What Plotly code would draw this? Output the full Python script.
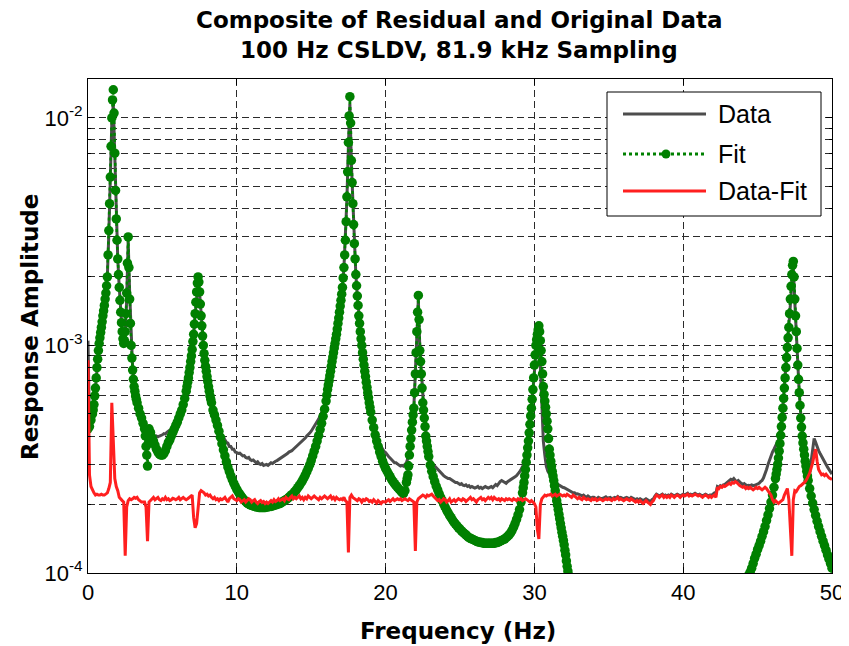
import numpy as np
import plotly.graph_objects as go

# frequency bins (0.1 Hz resolution, 0-50 Hz)
freq = np.linspace(0, 50, 501)

# Measured response (Data), gray line
data_amp = [
    1.05e-3, 4.4e-4, 4.7e-4, 5.0e-4, 5.5e-4, 6.5e-4, 8.0e-4, 9.5e-4, 1.08e-3, 1.2e-3,
    1.35e-3, 1.5e-3, 1.7e-3, 2.0e-3, 3.1e-3, 5.3e-3, 9.5e-3, 1.15e-2, 6.8e-3, 3.6e-3,
    2.4e-3, 1.8e-3, 1.4e-3, 1.15e-3, 1.02e-3, 1.1e-3, 1.6e-3, 2.9e-3, 1.7e-3, 1.05e-3,
    8.0e-4, 6.8e-4, 6.0e-4, 5.6e-4, 5.2e-4, 4.9e-4, 4.6e-4, 4.4e-4, 4.25e-4, 4.1e-4,
    4.0e-4, 3.95e-4, 3.9e-4, 3.9e-4, 3.92e-4, 3.95e-4, 4.0e-4, 3.97e-4, 4.0e-4, 4.02e-4,
    4.05e-4, 4.1e-4, 4.08e-4, 4.15e-4, 4.2e-4, 4.25e-4, 4.3e-4, 4.4e-4, 4.5e-4, 4.6e-4,
    4.7e-4, 4.85e-4, 5.0e-4, 5.2e-4, 5.5e-4, 5.85e-4, 6.3e-4, 6.9e-4, 7.6e-4, 8.5e-4,
    9.6e-4, 1.12e-3, 1.35e-3, 1.65e-3, 1.9e-3, 1.7e-3, 1.35e-3, 1.1e-3, 9.3e-4, 8.2e-4,
    7.4e-4, 6.7e-4, 6.1e-4, 5.7e-4, 5.3e-4, 5.0e-4, 4.75e-4, 4.55e-4, 4.3e-4, 4.15e-4,
    4.05e-4, 3.92e-4, 3.88e-4, 3.75e-4, 3.72e-4, 3.6e-4, 3.6e-4, 3.5e-4, 3.5e-4, 3.4e-4,
    3.38e-4, 3.35e-4, 3.36e-4, 3.3e-4, 3.27e-4, 3.28e-4, 3.22e-4, 3.2e-4, 3.22e-4, 3.15e-4,
    3.12e-4, 3.14e-4, 3.08e-4, 3.05e-4, 3.08e-4, 3.02e-4, 3.0e-4, 3.03e-4, 2.97e-4, 2.98e-4,
    3.0e-4, 2.97e-4, 3.02e-4, 3.05e-4, 3.03e-4, 3.08e-4, 3.1e-4, 3.12e-4, 3.15e-4, 3.2e-4,
    3.22e-4, 3.25e-4, 3.28e-4, 3.3e-4, 3.35e-4, 3.4e-4, 3.42e-4, 3.45e-4, 3.5e-4, 3.55e-4,
    3.6e-4, 3.62e-4, 3.68e-4, 3.75e-4, 3.8e-4, 3.85e-4, 3.92e-4, 4.0e-4, 4.05e-4, 4.12e-4,
    4.2e-4, 4.3e-4, 4.4e-4, 4.5e-4, 4.62e-4, 4.75e-4, 4.9e-4, 5.05e-4, 5.25e-4, 5.5e-4,
    5.8e-4, 6.4e-4, 7.0e-4, 7.7e-4, 8.5e-4, 9.3e-4, 1.02e-3, 1.12e-3, 1.25e-3, 1.4e-3,
    1.58e-3, 1.8e-3, 2.2e-3, 2.9e-3, 4.4e-3, 7.5e-3, 1.15e-2, 6.3e-3, 4.1e-3, 2.8e-3,
    2.05e-3, 1.65e-3, 1.35e-3, 1.15e-3, 1.0e-3, 8.8e-4, 7.8e-4, 7.0e-4, 6.3e-4, 5.8e-4,
    5.3e-4, 4.9e-4, 4.6e-4, 4.3e-4, 4.05e-4, 3.85e-4, 3.7e-4, 3.6e-4, 3.5e-4, 3.42e-4,
    3.38e-4, 3.3e-4, 3.25e-4, 3.2e-4, 3.15e-4, 3.12e-4, 3.05e-4, 3.05e-4, 3.0e-4, 2.98e-4,
    2.95e-4, 2.97e-4, 2.95e-4, 3.0e-4, 3.05e-4, 3.2e-4, 3.5e-4, 4.0e-4, 4.7e-4, 5.4e-4,
    7.6e-4, 1.15e-3, 1.6e-3, 9.8e-4, 7.7e-4, 5.8e-4, 4.9e-4, 4.2e-4, 3.7e-4, 3.35e-4,
    3.15e-4, 3.05e-4, 3.0e-4, 2.95e-4, 2.9e-4, 2.85e-4, 2.8e-4, 2.75e-4, 2.72e-4, 2.68e-4,
    2.65e-4, 2.62e-4, 2.6e-4, 2.6e-4, 2.57e-4, 2.55e-4, 2.53e-4, 2.5e-4, 2.5e-4, 2.48e-4,
    2.45e-4, 2.47e-4, 2.43e-4, 2.42e-4, 2.44e-4, 2.4e-4, 2.42e-4, 2.38e-4, 2.4e-4, 2.38e-4,
    2.36e-4, 2.38e-4, 2.4e-4, 2.36e-4, 2.38e-4, 2.35e-4, 2.37e-4, 2.4e-4, 2.38e-4, 2.36e-4,
    2.38e-4, 2.4e-4, 2.37e-4, 2.42e-4, 2.45e-4, 2.42e-4, 2.48e-4, 2.52e-4, 2.55e-4, 2.52e-4,
    2.5e-4, 2.48e-4, 2.52e-4, 2.55e-4, 2.58e-4, 2.6e-4, 2.62e-4, 2.65e-4, 2.68e-4, 2.72e-4,
    2.78e-4, 2.85e-4, 2.92e-4, 3.0e-4, 3.1e-4, 3.4e-4, 3.85e-4, 4.5e-4, 5.3e-4, 6.4e-4,
    8.2e-4, 1.0e-3, 1.1e-3, 1.18e-3, 8.0e-4, 5.0e-4, 3.8e-4, 3.3e-4, 2.95e-4, 2.8e-4,
    2.72e-4, 2.65e-4, 2.6e-4, 2.55e-4, 2.5e-4, 2.48e-4, 2.45e-4, 2.42e-4, 2.4e-4, 2.38e-4,
    2.37e-4, 2.35e-4, 2.33e-4, 2.3e-4, 2.28e-4, 2.27e-4, 2.25e-4, 2.25e-4, 2.22e-4, 2.23e-4,
    2.22e-4, 2.2e-4, 2.18e-4, 2.2e-4, 2.17e-4, 2.15e-4, 2.18e-4, 2.15e-4, 2.13e-4, 2.15e-4,
    2.15e-4, 2.13e-4, 2.12e-4, 2.15e-4, 2.14e-4, 2.12e-4, 2.13e-4, 2.15e-4, 2.16e-4, 2.13e-4,
    2.14e-4, 2.15e-4, 2.12e-4, 2.14e-4, 2.15e-4, 2.14e-4, 2.17e-4, 2.14e-4, 2.15e-4, 2.13e-4,
    2.12e-4, 2.14e-4, 2.15e-4, 2.13e-4, 2.12e-4, 2.15e-4, 2.13e-4, 2.12e-4, 2.1e-4, 2.12e-4,
    2.1e-4, 2.12e-4, 2.1e-4, 2.08e-4, 2.1e-4, 2.12e-4, 2.1e-4, 2.08e-4, 2.06e-4, 2.1e-4,
    2.12e-4, 2.18e-4, 2.22e-4, 2.2e-4, 2.18e-4, 2.2e-4, 2.22e-4, 2.18e-4, 2.2e-4, 2.18e-4,
    2.2e-4, 2.18e-4, 2.22e-4, 2.2e-4, 2.18e-4, 2.2e-4, 2.22e-4, 2.2e-4, 2.18e-4, 2.2e-4,
    2.22e-4, 2.2e-4, 2.22e-4, 2.24e-4, 2.2e-4, 2.22e-4, 2.2e-4, 2.22e-4, 2.24e-4, 2.22e-4,
    2.2e-4, 2.22e-4, 2.2e-4, 2.18e-4, 2.2e-4, 2.22e-4, 2.2e-4, 2.18e-4, 2.2e-4, 2.2e-4,
    2.22e-4, 2.25e-4, 2.24e-4, 2.4e-4, 2.38e-4, 2.42e-4, 2.4e-4, 2.44e-4, 2.45e-4, 2.48e-4,
    2.5e-4, 2.55e-4, 2.58e-4, 2.56e-4, 2.6e-4, 2.55e-4, 2.52e-4, 2.55e-4, 2.5e-4, 2.48e-4,
    2.45e-4, 2.47e-4, 2.44e-4, 2.42e-4, 2.43e-4, 2.42e-4, 2.44e-4, 2.42e-4, 2.43e-4, 2.45e-4,
    2.45e-4, 2.48e-4, 2.52e-4, 2.55e-4, 2.62e-4, 2.72e-4, 2.85e-4, 3.0e-4, 3.15e-4, 3.3e-4,
    3.4e-4, 3.5e-4, 3.6e-4, 3.7e-4, 3.85e-4, 4.1e-4, 4.6e-4, 5.4e-4, 6.6e-4, 8.0e-4,
    9.5e-4, 1.15e-3, 1.5e-3, 1.9e-3, 2.2e-3, 1.55e-3, 1.1e-3, 8.0e-4, 6.2e-4, 5.0e-4,
    4.2e-4, 3.7e-4, 3.3e-4, 3.05e-4, 2.95e-4, 2.95e-4, 3.1e-4, 3.4e-4, 3.9e-4, 3.75e-4,
    3.55e-4, 3.45e-4, 3.35e-4, 3.25e-4, 3.15e-4, 3.05e-4, 3.0e-4, 2.92e-4, 2.85e-4, 2.8e-4,
    2.72e-4,
]

# Modal fit (Fit), green dotted line with dots, on the 0.1 Hz bins
fit_amp = [
    4.3e-4, 4.4e-4, 4.7e-4, 5.0e-4, 5.5e-4, 6.5e-4, 8.0e-4, 9.5e-4, 1.08e-3, 1.2e-3,
    1.35e-3, 1.5e-3, 1.7e-3, 2.0e-3, 3.2e-3, 5.5e-3, 1.0e-2, 1.33e-2, 7.0e-3, 3.6e-3,
    2.4e-3, 1.8e-3, 1.4e-3, 1.15e-3, 1.02e-3, 1.15e-3, 1.7e-3, 3.0e-3, 1.6e-3, 1.0e-3,
    7.8e-4, 6.6e-4, 6.0e-4, 5.6e-4, 5.3e-4, 5.0e-4, 4.8e-4, 4.55e-4, 4.3e-4, 3.6e-4,
    2.95e-4, 4.3e-4, 4.15e-4, 3.95e-4, 3.8e-4, 3.65e-4, 3.5e-4, 3.4e-4, 3.33e-4, 3.3e-4,
    3.3e-4, 3.35e-4, 3.45e-4, 3.6e-4, 3.75e-4, 3.85e-4, 4.0e-4, 4.15e-4, 4.3e-4, 4.45e-4,
    4.6e-4, 4.8e-4, 5.0e-4, 5.2e-4, 5.5e-4, 5.85e-4, 6.3e-4, 6.9e-4, 7.6e-4, 8.5e-4,
    9.6e-4, 1.12e-3, 1.38e-3, 1.72e-3, 2.0e-3, 1.72e-3, 1.35e-3, 1.1e-3, 9.2e-4, 8.1e-4,
    7.3e-4, 6.6e-4, 6.0e-4, 5.6e-4, 5.2e-4, 4.95e-4, 4.7e-4, 4.45e-4, 4.2e-4, 3.95e-4,
    3.7e-4, 3.48e-4, 3.27e-4, 3.08e-4, 2.92e-4, 2.79e-4, 2.67e-4, 2.57e-4, 2.48e-4, 2.4e-4,
    2.33e-4, 2.27e-4, 2.22e-4, 2.17e-4, 2.13e-4, 2.09e-4, 2.06e-4, 2.03e-4, 2.01e-4, 1.99e-4,
    1.98e-4, 1.97e-4, 1.96e-4, 1.95e-4, 1.95e-4, 1.94e-4, 1.94e-4, 1.94e-4, 1.94e-4, 1.94e-4,
    1.95e-4, 1.95e-4, 1.96e-4, 1.96e-4, 1.97e-4, 1.98e-4, 1.99e-4, 2.0e-4, 2.01e-4, 2.02e-4,
    2.04e-4, 2.06e-4, 2.08e-4, 2.1e-4, 2.12e-4, 2.15e-4, 2.18e-4, 2.21e-4, 2.24e-4, 2.28e-4,
    2.32e-4, 2.37e-4, 2.42e-4, 2.48e-4, 2.54e-4, 2.61e-4, 2.69e-4, 2.78e-4, 2.88e-4, 2.99e-4,
    3.12e-4, 3.27e-4, 3.43e-4, 3.6e-4, 3.8e-4, 4.02e-4, 4.27e-4, 4.55e-4, 4.88e-4, 5.25e-4,
    5.7e-4, 6.4e-4, 7.0e-4, 7.7e-4, 8.5e-4, 9.3e-4, 1.02e-3, 1.12e-3, 1.25e-3, 1.4e-3,
    1.58e-3, 1.8e-3, 2.2e-3, 2.9e-3, 4.5e-3, 7.8e-3, 1.24e-2, 6.5e-3, 4.2e-3, 2.8e-3,
    2.05e-3, 1.65e-3, 1.35e-3, 1.15e-3, 1.0e-3, 8.7e-4, 7.7e-4, 6.9e-4, 6.2e-4, 5.6e-4,
    5.1e-4, 4.7e-4, 4.35e-4, 4.05e-4, 3.8e-4, 3.6e-4, 3.4e-4, 3.25e-4, 3.1e-4, 2.98e-4,
    2.88e-4, 2.8e-4, 2.72e-4, 2.65e-4, 2.58e-4, 2.52e-4, 2.47e-4, 2.42e-4, 2.38e-4, 2.34e-4,
    2.3e-4, 2.26e-4, 2.23e-4, 2.3e-4, 2.5e-4, 2.7e-4, 3.3e-4, 3.9e-4, 4.6e-4, 5.3e-4,
    7.5e-4, 1.15e-3, 1.66e-3, 9.5e-4, 7.5e-4, 5.6e-4, 4.8e-4, 4.0e-4, 3.6e-4, 3.25e-4,
    2.98e-4, 2.8e-4, 2.65e-4, 2.52e-4, 2.41e-4, 2.32e-4, 2.23e-4, 2.15e-4, 2.08e-4, 2.01e-4,
    1.95e-4, 1.89e-4, 1.84e-4, 1.79e-4, 1.75e-4, 1.71e-4, 1.67e-4, 1.64e-4, 1.61e-4, 1.58e-4,
    1.56e-4, 1.53e-4, 1.51e-4, 1.49e-4, 1.47e-4, 1.45e-4, 1.43e-4, 1.42e-4, 1.41e-4, 1.4e-4,
    1.39e-4, 1.38e-4, 1.37e-4, 1.37e-4, 1.36e-4, 1.36e-4, 1.35e-4, 1.35e-4, 1.35e-4, 1.35e-4,
    1.35e-4, 1.35e-4, 1.35e-4, 1.35e-4, 1.36e-4, 1.36e-4, 1.37e-4, 1.38e-4, 1.39e-4, 1.4e-4,
    1.41e-4, 1.43e-4, 1.45e-4, 1.47e-4, 1.5e-4, 1.54e-4, 1.59e-4, 1.65e-4, 1.72e-4, 1.8e-4,
    1.9e-4, 2.05e-4, 2.25e-4, 2.5e-4, 2.85e-4, 3.3e-4, 3.8e-4, 4.5e-4, 5.3e-4, 6.4e-4,
    8.2e-4, 1.0e-3, 1.12e-3, 1.22e-3, 1.05e-3, 8.5e-4, 6.6e-4, 5.7e-4, 5.0e-4, 4.3e-4,
    3.5e-4, 3.1e-4, 2.8e-4, 2.55e-4, 2.3e-4, 2.08e-4, 1.9e-4, 1.73e-4, 1.58e-4, 1.45e-4,
    1.33e-4, 1.2e-4, 1.07e-4, 9.8e-5, 9.0e-5, 8.3e-5, 7.7e-5, 7.2e-5, 6.8e-5, 6.4e-5,
    6.1e-5, 5.9e-5, 5.7e-5, 5.5e-5, 5.3e-5, 5.2e-5, 5.0e-5, 4.9e-5, 4.8e-5, 4.7e-5,
    4.6e-5, 4.5e-5, 4.4e-5, 4.4e-5, 4.3e-5, 4.3e-5, 4.2e-5, 4.2e-5, 4.1e-5, 4.1e-5,
    4.0e-5, 4.0e-5, 3.9e-5, 3.9e-5, 3.9e-5, 3.8e-5, 3.8e-5, 3.8e-5, 3.8e-5, 3.7e-5,
    3.7e-5, 3.7e-5, 3.7e-5, 3.7e-5, 3.6e-5, 3.6e-5, 3.6e-5, 3.6e-5, 3.6e-5, 3.6e-5,
    3.6e-5, 3.6e-5, 3.6e-5, 3.6e-5, 3.6e-5, 3.6e-5, 3.6e-5, 3.6e-5, 3.7e-5, 3.7e-5,
    3.7e-5, 3.7e-5, 3.7e-5, 3.8e-5, 3.8e-5, 3.8e-5, 3.9e-5, 3.9e-5, 3.9e-5, 4.0e-5,
    4.0e-5, 4.0e-5, 4.1e-5, 4.1e-5, 4.2e-5, 4.2e-5, 4.3e-5, 4.3e-5, 4.4e-5, 4.4e-5,
    4.5e-5, 4.5e-5, 4.6e-5, 4.7e-5, 4.7e-5, 4.8e-5, 4.9e-5, 4.9e-5, 5.0e-5, 5.1e-5,
    5.2e-5, 5.3e-5, 5.4e-5, 5.5e-5, 5.6e-5, 5.7e-5, 5.8e-5, 5.9e-5, 6.0e-5, 6.1e-5,
    6.2e-5, 6.3e-5, 6.4e-5, 6.5e-5, 6.7e-5, 6.8e-5, 6.9e-5, 7.1e-5, 7.2e-5, 7.3e-5,
    7.4e-5, 7.5e-5, 7.6e-5, 7.7e-5, 7.8e-5, 8.0e-5, 8.1e-5, 8.3e-5, 8.4e-5, 8.6e-5,
    8.8e-5, 9.0e-5, 9.3e-5, 9.6e-5, 9.8e-5, 1.01e-4, 1.05e-4, 1.1e-4, 1.16e-4, 1.21e-4,
    1.27e-4, 1.32e-4, 1.38e-4, 1.45e-4, 1.52e-4, 1.6e-4, 1.7e-4, 1.8e-4, 1.92e-4, 2.05e-4,
    2.2e-4, 2.38e-4, 2.6e-4, 2.85e-4, 3.2e-4, 3.7e-4, 4.4e-4, 5.3e-4, 6.5e-4, 8.0e-4,
    9.8e-4, 1.2e-3, 1.6e-3, 2.05e-3, 2.34e-3, 1.6e-3, 1.15e-3, 8.2e-4, 6.2e-4, 4.8e-4,
    4.0e-4, 3.5e-4, 3.1e-4, 2.8e-4, 2.55e-4, 2.35e-4, 2.18e-4, 2.03e-4, 1.9e-4, 1.79e-4,
    1.69e-4, 1.6e-4, 1.52e-4, 1.45e-4, 1.38e-4, 1.32e-4, 1.26e-4, 1.2e-4, 1.15e-4, 1.1e-4,
    1.05e-4,
]

# extra Fit points read on the steep resonance flanks (the fit is densely dotted there)
fit_extra_freq = [
    0.35, 0.45, 0.55, 0.65, 0.75, 0.85, 0.95, 1.05, 1.15, 1.25,
    1.35, 1.45, 1.55, 1.65, 1.75, 1.85, 1.95, 2.05, 2.15, 2.25,
    2.35, 2.45, 2.55, 2.65, 2.75, 2.85, 2.95, 3.05, 3.15, 3.25,
    3.85, 3.95, 4.05,
    6.65, 6.75, 6.85, 6.95, 7.05, 7.15, 7.25, 7.35, 7.45, 7.55,
    7.65, 7.75, 7.85, 7.95, 8.05, 8.15, 8.25,
    16.05, 16.15, 16.25, 16.35, 16.45, 16.55, 16.65, 16.75, 16.85, 16.95,
    17.05, 17.15, 17.25, 17.35, 17.45, 17.55, 17.65, 17.75, 17.85, 17.95,
    18.05, 18.15, 18.25, 18.35, 18.45, 18.55, 18.65, 18.75, 18.85, 18.95,
    21.45, 21.55, 21.65, 21.75, 21.85, 21.95, 22.05, 22.15, 22.25, 22.35,
    22.45, 22.55, 22.65, 22.75, 22.85,
    29.25, 29.35, 29.45, 29.55, 29.65, 29.75, 29.85, 29.95, 30.05, 30.15,
    30.25, 30.35, 30.45, 30.55, 30.65, 30.75, 30.85, 30.95, 31.05, 31.15,
    31.25, 31.35, 31.45, 31.55, 31.65, 31.75, 31.85, 31.95, 32.05, 32.15,
    32.25,
    46.25, 46.35, 46.45, 46.55, 46.65, 46.75, 46.85, 46.95, 47.05, 47.15,
    47.25, 47.35, 47.45, 47.55, 47.65, 47.75, 47.85, 47.95, 48.05, 48.15,
    48.25, 48.35,
]
fit_extra_amp = [
    5.2e-4, 6.0e-4, 7.2e-4, 8.7e-4, 1.02e-3, 1.14e-3, 1.27e-3, 1.42e-3, 1.6e-3, 1.83e-3,
    2.5e-3, 4.2e-3, 7.5e-3, 1.2e-2, 1.05e-2, 4.8e-3, 2.9e-3, 2.05e-3, 1.58e-3, 1.26e-3,
    1.07e-3, 1.05e-3, 1.38e-3, 2.3e-3, 2.2e-3, 1.25e-3, 8.8e-4, 7.1e-4, 6.3e-4, 5.8e-4,
    4.0e-4, 3.3e-4, 3.7e-4,
    6.6e-4, 7.2e-4, 8.0e-4, 9.0e-4, 1.04e-3, 1.24e-3, 1.55e-3, 1.88e-3, 1.9e-3, 1.52e-3,
    1.22e-3, 1.0e-3, 8.6e-4, 7.7e-4, 6.95e-4, 6.3e-4, 5.8e-4,
    6.05e-4, 6.7e-4, 7.35e-4, 8.1e-4, 8.9e-4, 9.75e-4, 1.07e-3, 1.18e-3, 1.32e-3, 1.49e-3,
    1.68e-3, 1.98e-3, 2.5e-3, 3.5e-3, 5.8e-3, 1.02e-2, 9.5e-3, 5.2e-3, 3.4e-3, 2.4e-3,
    1.83e-3, 1.5e-3, 1.25e-3, 1.07e-3, 9.3e-4, 8.2e-4, 7.3e-4, 6.55e-4, 5.9e-4, 5.35e-4,
    2.6e-4, 2.95e-4, 3.6e-4, 4.25e-4, 4.95e-4, 6.2e-4, 9.3e-4, 1.4e-3, 1.3e-3, 8.5e-4,
    6.5e-4, 5.2e-4, 4.4e-4, 3.8e-4, 3.42e-4,
    2.37e-4, 2.67e-4, 3.07e-4, 3.55e-4, 4.13e-4, 4.9e-4, 5.8e-4, 7.2e-4, 9.1e-4, 1.06e-3,
    1.17e-3, 1.15e-3, 9.5e-4, 7.5e-4, 6.1e-4, 5.35e-4, 4.65e-4, 3.9e-4, 3.3e-4, 2.95e-4,
    2.67e-4, 2.42e-4, 2.19e-4, 1.99e-4, 1.81e-4, 1.65e-4, 1.51e-4, 1.39e-4, 1.26e-4, 1.13e-4,
    1.02e-4,
    2.72e-4, 3.0e-4, 3.43e-4, 4.03e-4, 4.83e-4, 5.85e-4, 7.2e-4, 8.85e-4, 1.08e-3, 1.38e-3,
    1.82e-3, 2.25e-3, 2.0e-3, 1.35e-3, 9.7e-4, 7.1e-4, 5.45e-4, 4.38e-4, 3.73e-4, 3.3e-4,
    2.95e-4, 2.67e-4,
]

# Residual (Data-Fit), red line
resid_amp = [
    8.6e-4, 2.7e-4, 2.4e-4, 2.3e-4, 2.25e-4, 2.2e-4, 2.22e-4, 2.2e-4, 2.2e-4, 2.22e-4,
    2.2e-4, 2.2e-4, 2.22e-4, 2.25e-4, 2.35e-4, 2.5e-4, 5.6e-4, 3.6e-4, 2.6e-4, 2.4e-4,
    2.3e-4, 2.15e-4, 2.1e-4, 2.08e-4, 2.05e-4, 1.19e-4, 1.95e-4, 2.08e-4, 2.12e-4, 2.1e-4,
    2.12e-4, 2.15e-4, 2.13e-4, 2.15e-4, 2.1e-4, 2.08e-4, 2.05e-4, 2.05e-4, 2.05e-4, 1.95e-4,
    1.38e-4, 2.05e-4, 2.08e-4, 2.12e-4, 2.15e-4, 2.1e-4, 2.12e-4, 2.15e-4, 2.1e-4, 2.08e-4,
    2.12e-4, 2.1e-4, 2.15e-4, 2.1e-4, 2.12e-4, 2.08e-4, 2.1e-4, 2.13e-4, 2.12e-4, 2.1e-4,
    2.12e-4, 2.15e-4, 2.1e-4, 2.12e-4, 2.15e-4, 2.12e-4, 2.1e-4, 2.12e-4, 2.15e-4, 2.18e-4,
    2.2e-4, 1.75e-4, 1.58e-4, 1.65e-4, 1.9e-4, 2.25e-4, 2.3e-4, 2.28e-4, 2.25e-4, 2.2e-4,
    2.22e-4, 2.18e-4, 2.2e-4, 2.15e-4, 2.12e-4, 2.15e-4, 2.1e-4, 2.12e-4, 2.08e-4, 2.12e-4,
    2.1e-4, 2.12e-4, 2.15e-4, 2.1e-4, 2.05e-4, 2.12e-4, 2.15e-4, 2.18e-4, 2.12e-4, 2.1e-4,
    2.08e-4, 2.12e-4, 2.1e-4, 2.05e-4, 2.08e-4, 2.1e-4, 2.05e-4, 2.08e-4, 2.12e-4, 2.1e-4,
    2.05e-4, 2.08e-4, 2.1e-4, 2.05e-4, 2.02e-4, 2.06e-4, 2.08e-4, 2.04e-4, 2.06e-4, 2.02e-4,
    2.05e-4, 2.02e-4, 2.06e-4, 2.08e-4, 2.05e-4, 2.1e-4, 2.06e-4, 2.08e-4, 2.12e-4, 2.08e-4,
    2.1e-4, 2.12e-4, 2.08e-4, 2.15e-4, 2.12e-4, 2.1e-4, 2.15e-4, 2.18e-4, 2.12e-4, 2.15e-4,
    2.12e-4, 2.15e-4, 2.18e-4, 2.12e-4, 2.15e-4, 2.1e-4, 2.15e-4, 2.12e-4, 2.18e-4, 2.15e-4,
    2.12e-4, 2.15e-4, 2.18e-4, 2.15e-4, 2.12e-4, 2.1e-4, 2.15e-4, 2.12e-4, 2.15e-4, 2.18e-4,
    2.15e-4, 2.12e-4, 2.15e-4, 2.18e-4, 2.12e-4, 2.15e-4, 2.1e-4, 2.15e-4, 2.12e-4, 2.1e-4,
    2.12e-4, 2.1e-4, 2.15e-4, 2.08e-4, 2.05e-4, 1.23e-4, 2.15e-4, 2.2e-4, 2.15e-4, 2.12e-4,
    2.1e-4, 2.08e-4, 2.12e-4, 2.1e-4, 2.05e-4, 2.1e-4, 2.08e-4, 2.12e-4, 2.1e-4, 2.06e-4,
    2.08e-4, 2.05e-4, 2.1e-4, 2.06e-4, 2.03e-4, 2.08e-4, 2.05e-4, 2.02e-4, 2.06e-4, 2.05e-4,
    2.05e-4, 2.08e-4, 2.1e-4, 2.06e-4, 2.1e-4, 2.12e-4, 2.08e-4, 2.1e-4, 2.12e-4, 2.1e-4,
    2.12e-4, 2.08e-4, 2.1e-4, 2.12e-4, 2.1e-4, 2.08e-4, 2.12e-4, 2.1e-4, 2.08e-4, 2.05e-4,
    1.25e-4, 2.05e-4, 2.12e-4, 2.15e-4, 2.18e-4, 2.2e-4, 2.18e-4, 2.15e-4, 2.2e-4, 2.18e-4,
    2.2e-4, 2.22e-4, 2.18e-4, 2.15e-4, 2.12e-4, 2.08e-4, 2.1e-4, 2.05e-4, 2.08e-4, 2.12e-4,
    2.1e-4, 2.05e-4, 2.08e-4, 2.12e-4, 2.05e-4, 2.08e-4, 2.1e-4, 2.06e-4, 2.1e-4, 2.12e-4,
    2.1e-4, 2.08e-4, 2.12e-4, 2.1e-4, 2.06e-4, 2.1e-4, 2.12e-4, 2.15e-4, 2.1e-4, 2.12e-4,
    2.08e-4, 2.05e-4, 2.1e-4, 2.12e-4, 2.15e-4, 2.1e-4, 2.12e-4, 2.08e-4, 2.12e-4, 2.15e-4,
    2.12e-4, 2.15e-4, 2.1e-4, 2.15e-4, 2.12e-4, 2.1e-4, 2.12e-4, 2.08e-4, 2.12e-4, 2.1e-4,
    2.08e-4, 2.12e-4, 2.1e-4, 2.12e-4, 2.1e-4, 2.08e-4, 2.12e-4, 2.1e-4, 2.08e-4, 2.12e-4,
    2.1e-4, 2.12e-4, 2.08e-4, 2.1e-4, 2.12e-4, 2.1e-4, 2.08e-4, 2.05e-4, 2.08e-4, 2.05e-4,
    2.02e-4, 1.95e-4, 1.55e-4, 1.41e-4, 2.0e-4, 2.12e-4, 2.15e-4, 2.2e-4, 2.18e-4, 2.2e-4,
    2.2e-4, 2.22e-4, 2.18e-4, 2.2e-4, 2.22e-4, 2.18e-4, 2.2e-4, 2.22e-4, 2.2e-4, 2.18e-4,
    2.2e-4, 2.18e-4, 2.22e-4, 2.2e-4, 2.18e-4, 2.15e-4, 2.2e-4, 2.18e-4, 2.15e-4, 2.12e-4,
    2.15e-4, 2.12e-4, 2.1e-4, 2.15e-4, 2.12e-4, 2.1e-4, 2.12e-4, 2.1e-4, 2.08e-4, 2.12e-4,
    2.1e-4, 2.12e-4, 2.08e-4, 2.1e-4, 2.12e-4, 2.1e-4, 2.08e-4, 2.1e-4, 2.12e-4, 2.1e-4,
    2.12e-4, 2.1e-4, 2.08e-4, 2.12e-4, 2.1e-4, 2.12e-4, 2.15e-4, 2.1e-4, 2.12e-4, 2.1e-4,
    2.08e-4, 2.1e-4, 2.12e-4, 2.1e-4, 2.08e-4, 2.12e-4, 2.1e-4, 2.08e-4, 2.05e-4, 2.08e-4,
    2.05e-4, 2.08e-4, 2.05e-4, 2.02e-4, 2.05e-4, 2.08e-4, 2.05e-4, 2.02e-4, 2.0e-4, 2.05e-4,
    2.08e-4, 2.15e-4, 2.2e-4, 2.18e-4, 2.15e-4, 2.18e-4, 2.2e-4, 2.15e-4, 2.18e-4, 2.15e-4,
    2.18e-4, 2.15e-4, 2.2e-4, 2.18e-4, 2.15e-4, 2.18e-4, 2.2e-4, 2.18e-4, 2.15e-4, 2.18e-4,
    2.2e-4, 2.18e-4, 2.2e-4, 2.22e-4, 2.18e-4, 2.2e-4, 2.18e-4, 2.2e-4, 2.22e-4, 2.2e-4,
    2.18e-4, 2.2e-4, 2.18e-4, 2.15e-4, 2.18e-4, 2.2e-4, 2.18e-4, 2.15e-4, 2.18e-4, 2.15e-4,
    2.18e-4, 2.2e-4, 2.15e-4, 2.38e-4, 2.35e-4, 2.4e-4, 2.38e-4, 2.42e-4, 2.4e-4, 2.42e-4,
    2.45e-4, 2.48e-4, 2.45e-4, 2.5e-4, 2.48e-4, 2.52e-4, 2.5e-4, 2.45e-4, 2.42e-4, 2.4e-4,
    2.38e-4, 2.4e-4, 2.35e-4, 2.38e-4, 2.35e-4, 2.38e-4, 2.35e-4, 2.32e-4, 2.35e-4, 2.38e-4,
    2.35e-4, 2.38e-4, 2.35e-4, 2.32e-4, 2.35e-4, 2.38e-4, 2.35e-4, 2.3e-4, 2.25e-4, 2.2e-4,
    2.1e-4, 2.05e-4, 2.08e-4, 2.05e-4, 2.02e-4, 2.05e-4, 2.08e-4, 2.1e-4, 2.2e-4, 2.3e-4,
    2.35e-4, 2.1e-4, 1.55e-4, 1.19e-4, 2.1e-4, 2.3e-4, 2.28e-4, 2.35e-4, 2.4e-4, 2.42e-4,
    2.45e-4, 2.5e-4, 2.52e-4, 2.58e-4, 2.65e-4, 2.75e-4, 2.9e-4, 3.05e-4, 3.3e-4, 3.5e-4,
    3.1e-4, 2.85e-4, 2.77e-4, 2.7e-4, 2.72e-4, 2.68e-4, 2.72e-4, 2.65e-4, 2.62e-4, 2.6e-4,
    2.58e-4,
]

assert len(data_amp) == len(fit_amp) == len(resid_amp) == len(freq)
assert len(fit_extra_freq) == len(fit_extra_amp)

# all Fit points, in frequency order
fit_x = np.concatenate([freq, np.array(fit_extra_freq)])
fit_y = np.concatenate([np.array(fit_amp), np.array(fit_extra_amp)])
order = np.argsort(fit_x, kind="stable")
fit_x, fit_y = fit_x[order], fit_y[order]

series_names = ["Data", "Fit", "Data-Fit"]
x_ticks = [0, 10, 20, 30, 40, 50]
y_major = [1e-4, 1e-3, 1e-2]
y_major_text = ["10<sup>-4</sup>", "10<sup>-3</sup>", "10<sup>-2</sup>"]
y_minor = [m * d for d in (1e-4, 1e-3, 1e-2) for m in range(2, 10) if m * d < 0.0148]

GRAY = "#4d4d4d"
GREEN = "#008000"
RED = "#ff1f1f"
GRID = "#2b2b2b"
REG_FONT = "Liberation Sans, Arial, sans-serif"
BOLD_FONT = "DejaVu Sans, Verdana, sans-serif"

fig = go.Figure()
fig.add_trace(go.Scatter(x=freq, y=data_amp, mode="lines", name=series_names[0],
                         line=dict(color=GRAY, width=3), showlegend=False))
fig.add_trace(go.Scatter(x=fit_x, y=fit_y, mode="lines+markers", name=series_names[1],
                         line=dict(color=GREEN, width=2.5, dash="dot"),
                         marker=dict(color=GREEN, size=9.5, line=dict(width=0)),
                         showlegend=False))
fig.add_trace(go.Scatter(x=freq, y=resid_amp, mode="lines", name=series_names[2],
                         line=dict(color=RED, width=3), showlegend=False))

# The page body adds an 8px margin, so the figure is laid out 8px smaller.
PAGE_OFF = 8
W, H = 849 - PAGE_OFF, 646 - PAGE_OFF
# plot area in page pixels: x 88..832, y 79..573
L, R, T, B = 88 - PAGE_OFF, 849 - 832, 79 - PAGE_OFF, 646 - 573
PX0, PX1, PY0, PY1 = 88, 832, 79, 573


def px(xp):
    return (xp - PX0) / (PX1 - PX0)


def py(yp):
    return (PY1 - yp) / (PY1 - PY0)


fig.update_layout(
    width=W, height=H,
    margin=dict(l=L, r=R, t=T, b=B, autoexpand=False),
    paper_bgcolor="white", plot_bgcolor="white",
    showlegend=False,
    font=dict(family=REG_FONT, color="black"),
)

fig.update_xaxes(
    range=[0, 50], tickmode="array", tickvals=x_ticks, automargin=False,
    ticks="inside", ticklen=6, tickwidth=1, tickcolor="black",
    showline=True, linecolor="black", linewidth=1, mirror="ticks",
    showgrid=True, gridcolor=GRID, gridwidth=1, griddash="7px,4px",
    zeroline=False, tickfont=dict(family=REG_FONT, size=22, color="black"),
)
fig.update_yaxes(
    type="log", range=[-4, np.log10(0.01483)], automargin=False,
    tickmode="array", tickvals=y_major, ticktext=y_major_text,
    ticks="inside", ticklen=6, tickwidth=1, tickcolor="black",
    showline=True, linecolor="black", linewidth=1, mirror="ticks",
    showgrid=True, gridcolor=GRID, gridwidth=1, griddash="7px,4px",
    minor=dict(tickmode="array", tickvals=y_minor, ticks="inside", ticklen=3,
               tickcolor="black", showgrid=True, gridcolor=GRID, gridwidth=1,
               griddash="7px,4px"),
    zeroline=False, tickfont=dict(family=REG_FONT, size=22, color="black"),
)

ann = []
ann.append(dict(text="Composite of Residual and Original Data", x=px(459), y=py(20),
                xref="paper", yref="paper", showarrow=False, xanchor="center", yanchor="middle",
                font=dict(family=BOLD_FONT, size=23, color="black", weight="bold")))
ann.append(dict(text="100 Hz CSLDV, 81.9 kHz Sampling", x=px(459), y=py(50),
                xref="paper", yref="paper", showarrow=False, xanchor="center", yanchor="middle",
                font=dict(family=BOLD_FONT, size=23, color="black", weight="bold")))
ann.append(dict(text="Frequency (Hz)", x=px(458), y=py(631),
                xref="paper", yref="paper", showarrow=False, xanchor="center", yanchor="middle",
                font=dict(family=BOLD_FONT, size=23, color="black", weight="bold")))
ann.append(dict(text="Response Amplitude", x=px(30), y=py(327), textangle=-90,
                xref="paper", yref="paper", showarrow=False, xanchor="center", yanchor="middle",
                font=dict(family=BOLD_FONT, size=23, color="black", weight="bold")))

# legend (box, samples, labels)
shapes = []
shapes.append(dict(type="rect", xref="paper", yref="paper", x0=px(607), x1=px(821),
                   y0=py(216), y1=py(92), line=dict(color="black", width=1),
                   fillcolor="white", layer="above"))
leg_rows = [114, 154, 191]
leg_colors = [GRAY, GREEN, RED]
leg_dash = ["solid", "dot", "solid"]
for yy, cc, dd in zip(leg_rows, leg_colors, leg_dash):
    shapes.append(dict(type="line", xref="paper", yref="paper", x0=px(623), x1=px(706),
                       y0=py(yy), y1=py(yy), line=dict(color=cc, width=3, dash=dd),
                       layer="above"))
r = 4.5
shapes.append(dict(type="circle", xref="paper", yref="paper",
                   x0=px(666 - r), x1=px(666 + r), y0=py(154 + r), y1=py(154 - r),
                   fillcolor=GREEN, line=dict(color=GREEN, width=0), layer="above"))
for yy, name in zip(leg_rows, series_names):
    ann.append(dict(text=name, x=px(716), y=py(yy), xref="paper", yref="paper",
                    showarrow=False, xanchor="left", yanchor="middle",
                    font=dict(family=REG_FONT, size=25, color="black")))

fig.update_layout(annotations=ann, shapes=shapes)
fig.write_html("out.html")
